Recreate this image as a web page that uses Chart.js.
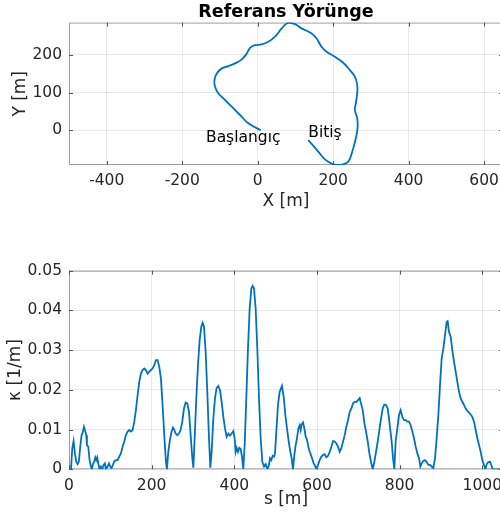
<!DOCTYPE html>
<html>
<head>
<meta charset="utf-8">
<script src="https://cdn.jsdelivr.net/npm/chart.js@4.4.0/dist/chart.umd.min.js"></script>
<style>
  html, body { margin: 0; padding: 0; background: #fff; overflow: hidden; }
  #wrap { position: relative; width: 500px; height: 521px; overflow: hidden; }
  #top { position: absolute; left: 0; top: 0; }
  #bot { position: absolute; left: 0; top: 240px; }
</style>
</head>
<body>
<div id="wrap">
  <canvas id="top" width="510" height="215"></canvas>
  <canvas id="bot" width="510" height="281"></canvas>
</div>
<script>
// reference path (X, Y in m)
const pathX = [8, -24.7, -46.7, -68.8, -90.8, -104, -113, -114.6, -108.5, -95, -77.6, -60, -42.3, -29, -20.3, -7,
  10.6, 28, 46, 63.5, 81, 98.8, 116.4, 143, 156, 169, 182.5, 204.6, 226.6, 244.3, 257.5, 263.7, 263.7, 260,
  257.5, 263.7, 264.5, 259, 250.4, 240, 218, 200, 178, 160.5, 147, 134];
const pathY = [0, 18.6, 40.7, 62.8, 84.9, 98, 116, 133.5, 151, 164.5, 170.6, 177.7, 188.3, 204, 219, 226,
  228, 235, 248.5, 270.6, 285.6, 282, 270.6, 257.3, 244, 222, 208.7, 195.4, 179.5, 160, 142.4, 120, 98, 71.6,
  54, 31.8, 5.3, -25.6, -56.6, -83, -92, -90, -77, -56.6, -40.7, -25.6];
const xTicksTop = [-400, -200, 0, 200, 400, 600];
const yTicksTop = [0, 100, 200];
const noteText = ['Başlangıç', 'Bitiş'];
const noteX = [-137, 134];
const noteY = [-20, -6];

// curvature along the path
const sVals = [0, 4.8, 7.9, 11.1, 14.3, 17.6, 20.8, 24, 27.2, 30.5, 33.7, 36.1, 38.5, 41.8, 43.4, 46.6, 49.8, 53.1,
  55.5, 57.9, 61.1, 63.5, 65.9, 68.4, 70.8, 74, 77.2, 80.5, 83.7, 86.9, 89.3, 93.4, 96.6, 99.8, 103, 106.3, 109.5,
  113.5, 117.6, 121.6, 125.6, 129.7, 133.7, 137.7, 141.8, 145.8, 149.8, 153.9, 157.9, 161.9, 166, 170, 174, 178,
  182.1, 186.1, 190.2, 194.2, 198.2, 202.3, 206.3, 210.3, 214.3, 218.4, 222.4, 226.4, 230.5, 234.5, 236.9, 240.2,
  244.2, 248.2, 251.5,
  254, 258, 262, 266.1, 270.1, 274.1, 278.2, 282.2, 286.2, 290.3, 294.3, 298.3, 300.8, 304, 308, 312, 316.1, 320.1,
  323.3, 326.6, 330.6, 334.6, 338.7, 341.9, 345.1, 349.2, 353.2, 357.2, 361.3, 365.3, 369.3, 373.4, 377.4, 381.4,
  385.4, 389.5, 393.5, 397.5, 400.8, 403.2, 405.6, 408.8, 412.1, 415.3, 418.5, 421.7, 425, 429, 433, 437.1, 441.1,
  444.3, 447.6, 451.6, 455.6, 459.7, 463.7, 467.7, 471.8, 475.8, 479.8, 483.9, 486.3, 489.5, 492.7, 496, 498.4,
  501.6, 505.6, 509.7,
  515.3, 519.4, 523.4, 527.4, 531.5, 535.5, 538.7, 541.9, 545.2, 548.4, 551.6, 554.9, 558.1, 560.5, 562.9, 566.2,
  569.4, 572.6, 575.9, 579.9, 583.9, 588, 592, 596, 599.3, 602.5, 606.5, 610.6, 614.6, 618.6, 622.7, 626.7, 630.7,
  634.8, 638.8, 642.8, 646.8, 650.9, 654.9, 658.9, 663, 667, 671, 675.1, 679.1, 683.1, 687.2, 691.2, 695.2, 699.3,
  703.3, 706.5, 710.6, 714.6, 718.6, 722.7, 726.7, 730.7, 734.8, 738.8, 742.8, 746.9, 750.9, 754.9, 759, 763, 767,
  771.1, 775.1,
  780.6, 783.9, 787.1, 790.3, 794.4, 798.4, 802.4, 806.5, 810.5, 814.5, 818.6, 822.6, 826.6, 830.7, 834.7, 838.7,
  842.8, 846.8, 850, 853.3, 857.3, 861.3, 865.4, 869.4, 873.4, 877.5, 881.5, 885.5, 889.5, 893.6, 897.6, 901.6,
  905.7, 909.7, 913.7, 916.1, 919.4, 923.4, 927.4, 931.5, 935.5, 939.5, 943.6, 947.6, 951.6, 955.7, 959.7, 963.7,
  967.8, 971.8, 975.8, 979.9, 983.9, 987.9, 992, 996, 1000, 1004, 1007.3, 1010.5, 1014.6, 1018.6, 1021.8, 1025, 1045];
const kappaVals = [0, 0, 0.0053, 0.0071, 0.004, 0.0019, 0.0013, 0.002, 0.0057, 0.0086, 0.0095, 0.0107, 0.0099, 0.0086,
  0.0061, 0.0057, 0.0023, 0.0007, 0, 0.0013, 0.002, 0.003, 0.0023, 0.003, 0.0015, 0, 0.0007, 0, 0.0011, 0.0015, 0,
  0.0007, 0.0015, 0.0007, 0.0003, 0.0011, 0.002, 0.0023, 0.0023, 0.0032, 0.004, 0.0057, 0.007, 0.0086, 0.0095,
  0.0099, 0.0095, 0.0099, 0.012, 0.0149, 0.0187, 0.022, 0.0241, 0.025, 0.0254, 0.025, 0.0241, 0.0246, 0.025, 0.0254,
  0.0262, 0.0275, 0.0275, 0.0258, 0.0229, 0.0162, 0.0086, 0.0019, 0, 0.0044, 0.0074, 0.0095, 0.0105,
  0.0101, 0.009, 0.0086, 0.009, 0.0099, 0.012, 0.0153, 0.0168, 0.0166, 0.0145, 0.0086, 0.0028, 0.0004, 0.0078,
  0.0179, 0.0262, 0.0325, 0.0359, 0.0369, 0.0359, 0.0296, 0.0195, 0.0078, 0.0004, 0.0044, 0.0128, 0.0179, 0.0205,
  0.021, 0.0199, 0.017, 0.0132, 0.0103, 0.0082, 0.009, 0.0085, 0.009, 0.0096, 0.0078, 0.0044, 0.0054, 0.0044,
  0.0054, 0.0051, 0.0032, 0, 0.0061, 0.0179, 0.0304, 0.0405, 0.0455, 0.0462, 0.0455, 0.0405, 0.0304, 0.0179, 0.0078,
  0.0019, 0.0007, 0.0013, 0, 0.0011, 0.0028, 0.0023, 0.0034, 0.0032, 0.004, 0.0095, 0.0162, 0.0195,
  0.021, 0.0183, 0.0137, 0.0103, 0.007, 0.0044, 0.0028, 0, 0.0036, 0.0061, 0.0078, 0.0103, 0.0111, 0.0099, 0.0113,
  0.0118, 0.0103, 0.0082, 0.0074, 0.0053, 0.004, 0.0028, 0.0015, 0.0007, 0, 0.0011, 0.0023, 0.0032, 0.0036, 0.0038,
  0.003, 0.0034, 0.0044, 0.0057, 0.0071, 0.007, 0.0065, 0.0057, 0.0044, 0.0053, 0.007, 0.0086, 0.0107, 0.0124,
  0.0145, 0.0153, 0.0166, 0.017, 0.017, 0.0174, 0.0179, 0.0166, 0.0149, 0.0116, 0.0095, 0.007, 0.004, 0.0019, 0,
  0.0019, 0.0044, 0.007, 0.0099, 0.0128, 0.0153, 0.0163, 0.0162, 0.0153, 0.012,
  0.007, 0.0028, 0, 0.007, 0.0103, 0.0137, 0.0149, 0.0132, 0.0124, 0.0124, 0.012, 0.012, 0.0111, 0.0095, 0.0078,
  0.0057, 0.004, 0.0028, 0.0007, 0.0015, 0.0021, 0.0023, 0.0018, 0.0011, 0.0011, 0.0007, 0.0003, 0.0028, 0.0078,
  0.0137, 0.0212, 0.0279, 0.0304, 0.0338, 0.0371, 0.0373, 0.0346, 0.0334, 0.03, 0.0271, 0.0246, 0.022, 0.0195,
  0.0179, 0.017, 0.0162, 0.0153, 0.0147, 0.0143, 0.0138, 0.0132, 0.012, 0.0099, 0.0078, 0.0061, 0.0044, 0.0023,
  0.0011, 0, 0.0013, 0.0018, 0.0019, 0.0011, 0, 0];
const sTicks = [0, 200, 400, 600, 800, 1000];
const kTicks = [0, 0.01, 0.02, 0.03, 0.04, 0.05];

const FONT = 'DejaVu Sans';
const TXT = '#262626';
const LINE = '#0072BD';
const GRID = 'rgba(38,38,38,0.1)';
const BOX = '#a0a0a0';

Chart.defaults.font.family = FONT;
Chart.defaults.color = TXT;

// matlab style box with inward ticks
const boxPlugin = {
  id: 'box',
  beforeDatasetsDraw(chart) {
    const { ctx, chartArea: a, scales } = chart;
    ctx.save();
    ctx.strokeStyle = BOX;
    ctx.lineWidth = 1;
    ctx.strokeRect(a.left + 0.5, a.top + 0.5, a.right - a.left - 1, a.bottom - a.top - 1);
    ctx.strokeStyle = '#555';
    ctx.beginPath();
    scales.x.ticks.forEach(t => {
      const px = Math.round(scales.x.getPixelForValue(t.value)) + 0.5;
      ctx.moveTo(px, a.bottom); ctx.lineTo(px, a.bottom - 4);
      ctx.moveTo(px, a.top); ctx.lineTo(px, a.top + 4);
    });
    scales.y.ticks.forEach(t => {
      const py = Math.round(scales.y.getPixelForValue(t.value)) + 0.5;
      ctx.moveTo(a.left, py); ctx.lineTo(a.left + 4, py);
      ctx.moveTo(a.right, py); ctx.lineTo(a.right - 4, py);
    });
    ctx.stroke();
    ctx.restore();
  }
};

const notesPlugin = {
  id: 'notes',
  afterDatasetsDraw(chart) {
    const { ctx, scales } = chart;
    ctx.save();
    ctx.font = '15.5px "' + FONT + '"';
    ctx.fillStyle = '#000';
    ctx.textAlign = 'left';
    ctx.textBaseline = 'middle';
    noteText.forEach((t, i) => {
      ctx.fillText(t, scales.x.getPixelForValue(noteX[i]), scales.y.getPixelForValue(noteY[i]));
    });
    ctx.restore();
  }
};

function fixTicks(arr) {
  return function (scale) { scale.ticks = arr.map(v => ({ value: v })); };
}

function axisX(min, max, ticks, title, height, titlePad) {
  return {
    type: 'linear', min: min, max: max,
    afterBuildTicks: fixTicks(ticks),
    afterFit(scale) { scale.height = height; scale.paddingLeft = 0; scale.paddingRight = 0; },
    grid: { color: GRID, drawTicks: false },
    border: { display: false },
    ticks: { font: { size: 15.5 }, padding: 7, maxRotation: 0, autoSkip: false, callback: v => String(v) },
    title: { display: true, text: title, font: { size: 17 }, padding: { top: 0, bottom: titlePad } }
  };
}

function axisY(min, max, ticks, title, titlePad, fmt) {
  return {
    type: 'linear', min: min, max: max,
    afterBuildTicks: fixTicks(ticks),
    afterFit(scale) { scale.width = 69; scale.paddingTop = 0; scale.paddingBottom = 0; },
    grid: { color: GRID, drawTicks: false },
    border: { display: false },
    ticks: { font: { size: 15.5 }, padding: 7, autoSkip: false, callback: fmt },
    title: { display: true, text: title, font: { size: 17 }, padding: { top: titlePad, bottom: 0 } }
  };
}

new Chart(document.getElementById('top'), {
  type: 'scatter',
  data: {
    datasets: [{
      data: pathX.map((x, i) => ({ x: x, y: pathY[i] })),
      showLine: true,
      borderColor: LINE,
      borderWidth: 1.8,
      pointRadius: 0,
      tension: 0.4,
      fill: false
    }]
  },
  options: {
    responsive: false,
    animation: false,
    layout: { padding: { left: 0, right: 7, top: 0, bottom: 0 } },
    plugins: {
      legend: { display: false },
      tooltip: { enabled: false },
      title: {
        display: true, text: 'Referans Yörünge', fullSize: false, color: '#000',
        font: { size: 17.5, weight: 'bold' }, padding: { top: 1.5, bottom: 0.1 }
      }
    },
    scales: {
      x: axisX(-500, 650, xTicksTop, 'X [m]', 50, 3),
      y: axisY(-92, 286, yTicksTop, 'Y [m]', 10.4, v => String(v))
    }
  },
  plugins: [boxPlugin, notesPlugin]
});

new Chart(document.getElementById('bot'), {
  type: 'scatter',
  data: {
    datasets: [{
      data: sVals.map((s, i) => ({ x: s, y: kappaVals[i] })),
      showLine: true,
      borderColor: LINE,
      borderWidth: 1.8,
      pointRadius: 0,
      tension: 0,
      fill: false
    }]
  },
  options: {
    responsive: false,
    animation: false,
    layout: { padding: { left: 0, right: 7, top: 30.7, bottom: 0 } },
    plugins: { legend: { display: false }, tooltip: { enabled: false } },
    scales: {
      x: axisX(0, 1050, sTicks, 's [m]', 51.7, 11.5),
      y: axisY(0, 0.05, kTicks, 'κ [1/m]', 5.8, v => (v === 0 ? '0' : v.toFixed(2)))
    }
  },
  plugins: [boxPlugin]
});
</script>
</body>
</html>
